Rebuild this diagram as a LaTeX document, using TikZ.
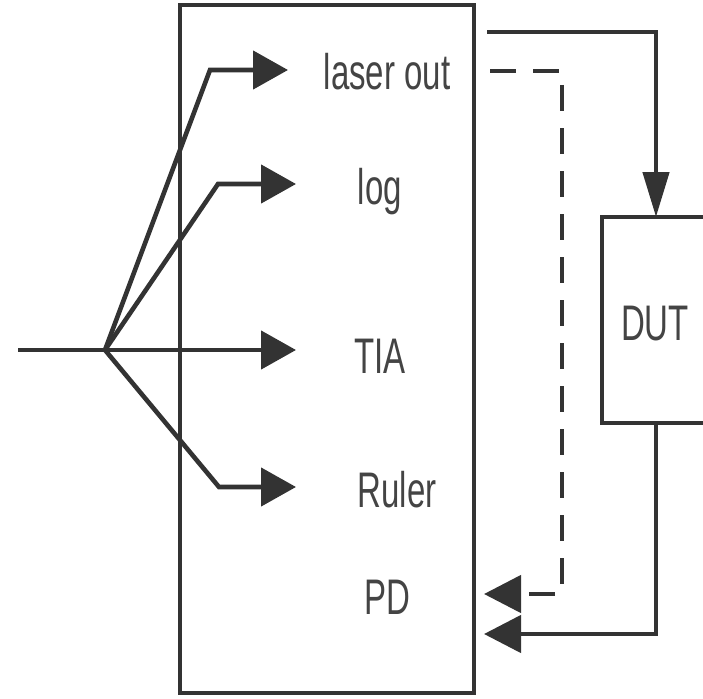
\documentclass[tikz,border=0pt]{standalone}
\usepackage{fontspec}
\setmainfont{Liberation Sans}
\newfontfamily\condfont[FakeStretch=0.66]{Liberation Sans}
\usetikzlibrary{arrows.meta}
\definecolor{ink}{HTML}{333333}
\definecolor{txt}{HTML}{444444}
\begin{document}
\begin{tikzpicture}[x=1pt,y=-1pt,line width=4.6pt,draw=ink,
  lbl/.style={font=\condfont\fontsize{50}{50}\selectfont,text=txt,anchor=base,inner sep=0pt},
  fanarrow/.style={-{Triangle[length=35pt,width=38pt]}},
  downarrow/.style={-{Triangle[length=45pt,width=26pt]}},
  pdarrow/.style={-{Triangle[length=37pt,width=37pt]}},
  boxstyle/.style={draw=ink,line width=4.6pt,inner sep=0pt}]
\useasboundingbox (0,0) rectangle (703,698);
\clip (0,0) rectangle (703,698);
% boxes
\node[boxstyle,minimum width=294pt,minimum height=688pt] (inst) at (327,349) {};
\node[boxstyle,minimum width=158pt,minimum height=206pt] (dut) at (681,320) {};
% labels
\node[lbl] (tlaser) at (387,90) {laser out};
\node[lbl] (tlog) at (380,204) {log};
\node[lbl] (ttia) at (380,373) {TIA};
\node[lbl] (truler) at (397,507) {Ruler};
\node[lbl] (tpd) at (387,614) {PD};
\node[lbl] (tdut) at (655,340) {DUT};
% fan coordinates
\coordinate (in) at (18,350);
\coordinate (fan) at (105,350);
\coordinate (b1) at (210,70);  \coordinate (e1) at (288,70);
\coordinate (b2) at (218,184); \coordinate (e2) at (296,184);
\coordinate (e3) at (296,350);
\coordinate (b4) at (219,487); \coordinate (e4) at (296,487);
\draw (in) -- (fan);
\draw[fanarrow] (fan) -- (b1) -- (e1);
\draw[fanarrow] (fan) -- (b2) -- (e2);
\draw[fanarrow] (fan) -- (e3);
\draw[fanarrow] (fan) -- (b4) -- (e4);
% right side
\coordinate (s1) at (487,32);
\coordinate (dutin) at (656,217);
\coordinate (dutout) at (656,423);
\coordinate (pdin) at (484,634);
\coordinate (d1) at (490,71);
\coordinate (d2) at (562,594);
\coordinate (pdin2) at (484,594);
\draw[downarrow] (s1) -| (dutin);
\draw[pdarrow] (dutout) |- (pdin);
\draw[pdarrow,dash pattern=on 26pt off 17pt] (d1) -| (d2) -- (pdin2);
\end{tikzpicture}
\end{document}
